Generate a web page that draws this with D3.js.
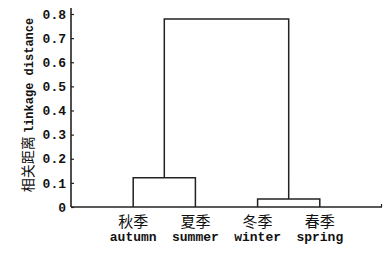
<!DOCTYPE html>
<html>
<head>
<meta charset="utf-8">
<script src="https://cdn.jsdelivr.net/npm/d3@7"></script>
<style>
  body { margin: 0; background: #fff; }
  text { font-family: "Liberation Mono", monospace; font-weight: bold; fill: #111; }
  .cjk { font-family: "Noto Sans CJK SC", sans-serif; font-weight: normal; }
</style>
</head>
<body>
<svg id="chart" width="387" height="253"></svg>
<script>
// leaves in dendrogram order
var leavesCn = ["秋季", "夏季", "冬季", "春季"];
var leavesEn = ["autumn", "summer", "winter", "spring"];
// merges: [left, right, height]  (left/right are leaf index or "m" + merge index)
var merges = [
    [0, 1, 0.121],
    [2, 3, 0.033],
    ["m0", "m1", 0.779]
];
var yTicks = [0, 0.1, 0.2, 0.3, 0.4, 0.5, 0.6, 0.7, 0.8];

var svg = d3.select("#chart");
var margin = { top: 14, right: 5, bottom: 46, left: 71 };
var width = 387 - margin.left - margin.right;
var height = 253 - margin.top - margin.bottom;

var x = d3.scalePoint().domain(d3.range(leavesEn.length)).range([0, width]).padding(1);
var y = d3.scaleLinear().domain([0, 0.8]).range([height, 0]);

var g = svg.append("g").attr("transform", "translate(" + margin.left + "," + margin.top + ")");

// y axis, ticks pointing inward
var yAxis = g.append("g")
    .call(d3.axisRight(y).tickValues(yTicks).tickSize(3).tickFormat(function (d) { return d === 0 ? "0" : d3.format(".1f")(d); }));
yAxis.select(".domain").attr("stroke", "#222").attr("stroke-width", 1.6).attr("d", "M0," + (y(0.8) - 6) + "V" + height);
yAxis.selectAll(".tick line").attr("stroke", "#222").attr("stroke-width", 1.2);
yAxis.selectAll(".tick text")
    .attr("x", -5)
    .attr("text-anchor", "end")
    .style("font-size", "13px")
    .style("font-family", "'Liberation Mono', monospace")
    .style("font-weight", "bold")
    .attr("fill", "#111");

// x axis line
g.append("line")
    .attr("x1", 0).attr("x2", width)
    .attr("y1", height).attr("y2", height)
    .attr("stroke", "#222").attr("stroke-width", 1.6);
g.append("line")
    .attr("x1", width - 0.5).attr("x2", width - 0.5)
    .attr("y1", height).attr("y2", height - 3)
    .attr("stroke", "#222").attr("stroke-width", 1.2);

// dendrogram links
var nodePos = {};
function pos(id) {
    if (typeof id === "number") return { x: x(id), h: 0 };
    return nodePos[id];
}
merges.forEach(function (m, i) {
    var a = pos(m[0]), b = pos(m[1]);
    g.append("path")
        .attr("d", "M" + a.x + "," + y(a.h) + "V" + y(m[2]) + "H" + b.x + "V" + y(b.h))
        .attr("fill", "none")
        .attr("stroke", "#222")
        .attr("stroke-width", 1.5);
    nodePos["m" + i] = { x: (a.x + b.x) / 2, h: m[2] };
});

// leaf labels
g.selectAll(".cn")
    .data(leavesCn).enter()
    .append("text")
    .attr("class", "cjk")
    .attr("x", function (d, i) { return x(i); })
    .attr("y", height + 20)
    .attr("text-anchor", "middle")
    .style("font-size", "15px")
    .text(function (d) { return d; });
g.selectAll(".en")
    .data(leavesEn).enter()
    .append("text")
    .attr("x", function (d, i) { return x(i); })
    .attr("y", height + 34)
    .attr("text-anchor", "middle")
    .style("font-size", "13px")
    .text(function (d) { return d; });

// y axis title
var title = svg.append("text")
    .attr("transform", "translate(33," + 105 + ") rotate(-90)")
    .attr("text-anchor", "middle")
    .style("font-size", "12px");
title.append("tspan").attr("class", "cjk").style("font-size", "14px").text("相关距离 ");
title.append("tspan").text("linkage distance");
</script>
</body>
</html>
